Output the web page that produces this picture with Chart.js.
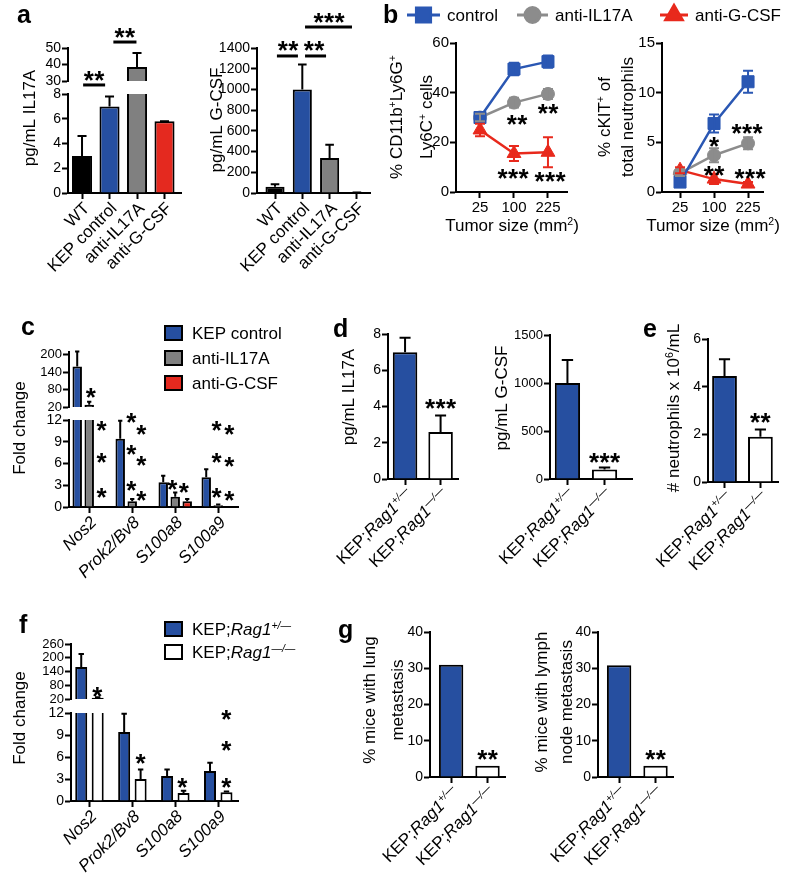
<!DOCTYPE html>
<html><head><meta charset="utf-8">
<script src="https://cdn.jsdelivr.net/npm/chart.js@4.4.0/dist/chart.umd.min.js"></script>
<style>
html,body{margin:0;padding:0;background:#fff;}
#wrap{position:relative;width:800px;height:887px;overflow:hidden;background:#fff;}
canvas{position:absolute;left:0;top:0;}
</style></head><body><div id="wrap"></div>
<script>
// ---------------- data ----------------
const aCats = ['WT','KEP control','anti-IL17A','anti-G-CSF'];
const aIL17A = [3.0, 7.0, 38.5, 5.8];
const aIL17AErr = [4.6, 7.8, 47, 5.8];
const aGCSF = [60, 1000, 338, 5];
const aGCSFErr = [85, 1240, 465, 5];

const bSizes = ['25','100','225'];
const bSeries = ['control','anti-IL17A','anti-G-CSF'];
const bCtrlLy6 = [30, 49.5, 52.5];   const bCtrlLy6Err = [2, 2.5, 2.5];
const bIL17Ly6 = [30, 36, 39.5];     const bIL17Ly6Err = [1.5, 2, 2];
const bGCSFLy6 = [25, 15.5, 16];     const bGCSFLy6Err = [2.5, 3, 6];
const bCtrlKit = [1.0, 6.9, 11.1];   const bCtrlKitErr = [0.3, 0.9, 1.1];
const bIL17Kit = [1.9, 3.7, 4.9];    const bIL17KitErr = [0.3, 0.7, 0.6];
const bGCSFKit = [2.2, 1.3, 0.8];    const bGCSFKitErr = [0.3, 0.5, 0.2];

const genes = ['Nos2','Prok2/Bv8','S100a8','S100a9'];
const cSeries = ['KEP control','anti-IL17A','anti-G-CSF'];
const cCtrl = [160, 9.4, 3.4, 4.1];  const cCtrlErr = [212, 11.9, 4.3, 5.2];
const cIL17 = [28, 0.8, 1.4, 0.25];  const cIL17Err = [38, 1.1, 2.0, 0.35];
const cGCSF = [0, 0, 0.8, 0.1];      const cGCSFErr = [null, null, 1.1, null];

const ragGeno = ['+/\u2014','\u2014/\u2014'];
const dIL17A = [7.0, 2.6];   const dIL17AErr = [7.8, 3.5];
const dGCSF = [1000, 100];   const dGCSFErr = [1240, 120];
const eNeut = [4.45, 1.9];   const eNeutErr = [5.15, 2.2];

const fHet = [160, 9.4, 3.4, 4.1];   const fHetErr = [216, 11.9, 4.3, 5.2];
const fKO  = [25, 3.0, 1.1, 1.2];    const fKOErr  = [28, 4.3, 1.4, 1.3];

const gLung = [31, 3.1];
const gLymph = [30.8, 3.1];

// ---------------- styles ----------------
const FONT = '"Liberation Sans", Arial, Helvetica, sans-serif';
const BLUE='#264fa0', GREY='#808080', RED='#e4291f', WHITE='#ffffff', BLACK='#000000';
const LBLUE='#2a57b3', LGREY='#8c8c8c', LRED='#e8291c';
Chart.defaults.font.family = FONT;
Chart.defaults.color = '#000';
Chart.defaults.plugins.legend.display = false;
Chart.defaults.plugins.tooltip.enabled = false;
const W=800, H=887;

function xy(arr){ return arr.map((v,i)=>({x:i,y:v})); }
function ragLabel(g){ return [{t:'KEP;'},{t:'Rag1',i:1},{t:g,i:1,s:1}]; }

function setFont(ctx,size,it,b){ ctx.font=(it?'italic ':'')+(b?'bold ':'')+size+'px '+FONT; }
function richW(ctx,segs,size){ let w=0; for(const s of segs){ setFont(ctx,s.s?size*0.62:size,s.i,s.b); w+=ctx.measureText(s.t).width; } return w; }
function richDraw(ctx,segs,x,y,size,align){
  const w=richW(ctx,segs,size);
  let cx = align==='right'? x-w : align==='center'? x-w/2 : x;
  ctx.textAlign='left'; ctx.textBaseline='alphabetic';
  for(const s of segs){ const sz=s.s?size*0.62:size; setFont(ctx,sz,s.i,s.b);
    ctx.fillText(s.t,cx,s.s? y-size*0.36 : y); cx+=ctx.measureText(s.t).width; }
}

const decoPlugin = { id:'deco', afterDraw(chart){
  const ops = chart.data.deco; if(!ops) return;
  const ctx=chart.ctx, xs=chart.scales.x, ys=chart.scales.y, A=chart.chartArea;
  ctx.save(); ctx.fillStyle='#000'; ctx.strokeStyle='#000';
  for(const o of ops){
    if(o.k==='t'){
      ctx.save(); ctx.translate(o.x,o.y); if(o.rot) ctx.rotate(o.rot*Math.PI/180);
      richDraw(ctx,o.segs,0,o.base?0:o.size*0.35,o.size,o.align||'left'); ctx.restore();
    } else if(o.k==='xl'){
      o.labels.forEach((segs,i)=>{
        const px=xs.getPixelForValue(i)+o.dx, py=A.bottom+o.dy;
        ctx.save(); ctx.translate(px,py); ctx.rotate(-Math.PI/4);
        richDraw(ctx,segs,0,o.size*0.35,o.size,'right'); ctx.restore();
      });
    } else if(o.k==='st'){
      const size=o.size||26, sp=o.sp||10.5;
      const px=xs.getPixelForValue(o.x), py=ys.getPixelForValue(o.y);
      setFont(ctx,size,false,true); ctx.textAlign='center'; ctx.textBaseline='alphabetic';
      for(let j=0;j<o.n;j++) ctx.fillText('*',px+(j-(o.n-1)/2)*sp,py+size*0.55);
    } else if(o.k==='ln'){
      const y=ys.getPixelForValue(o.y);
      ctx.lineWidth=o.w||3; ctx.beginPath();
      ctx.moveTo(xs.getPixelForValue(o.x1),y); ctx.lineTo(xs.getPixelForValue(o.x2),y); ctx.stroke();
    } else if(o.k==='sq'){
      ctx.fillStyle=o.fill; ctx.fillRect(o.x-o.w/2,o.y-o.h/2,o.w,o.h);
      ctx.lineWidth=2; ctx.strokeStyle='#000'; ctx.strokeRect(o.x-o.w/2,o.y-o.h/2,o.w,o.h);
      ctx.fillStyle='#000';
    } else if(o.k==='mk'){
      ctx.strokeStyle=o.color; ctx.fillStyle=o.color; ctx.lineWidth=3;
      ctx.beginPath(); ctx.moveTo(o.x1,o.y); ctx.lineTo(o.x2,o.y); ctx.stroke();
      Chart.helpers.drawPoint(ctx,{pointStyle:o.style,radius:o.r,rotation:0,borderWidth:1},(o.x1+o.x2)/2,o.y);
      ctx.strokeStyle='#000'; ctx.fillStyle='#000';
    }
  }
  ctx.restore();
}};

const errPlugin = { id:'errs', afterDatasetsDraw(chart){
  const ctx=chart.ctx, A=chart.chartArea, ys=chart.scales.y;
  const bottomPad = chart.data.errBottomPad || 0;
  ctx.save(); ctx.beginPath(); ctx.rect(A.left-30,A.top-3,A.right-A.left+60,A.bottom-A.top+3+bottomPad); ctx.clip();
  chart.data.datasets.forEach((ds,di)=>{
    const meta=chart.getDatasetMeta(di);
    if(ds.errTop){
      ctx.strokeStyle='#000'; ctx.lineWidth=2;
      meta.data.forEach((el,i)=>{
        const hi=ds.errTop[i]; if(hi==null) return;
        const y0=ys.getPixelForValue(ds.data[i].y), y1=ys.getPixelForValue(hi);
        const cw=el.width*0.45;
        ctx.beginPath(); ctx.moveTo(el.x,y0); ctx.lineTo(el.x,y1);
        ctx.moveTo(el.x-cw/2,y1); ctx.lineTo(el.x+cw/2,y1); ctx.stroke();
      });
    }
    if(ds.errPM){
      ctx.strokeStyle=ds.borderColor; ctx.lineWidth=2;
      meta.data.forEach((el,i)=>{
        const v=ds.data[i].y, e=ds.errPM[i];
        const y0=ys.getPixelForValue(v-e), y1=ys.getPixelForValue(v+e), cw=10;
        ctx.beginPath(); ctx.moveTo(el.x,y0); ctx.lineTo(el.x,y1);
        ctx.moveTo(el.x-cw/2,y0); ctx.lineTo(el.x+cw/2,y0);
        ctx.moveTo(el.x-cw/2,y1); ctx.lineTo(el.x+cw/2,y1); ctx.stroke();
      });
    }
  });
  ctx.restore();
}};
Chart.register(decoPlugin, errPlugin);

function mk(area,cfg){
  const c=document.createElement('canvas'); c.width=W; c.height=H;
  c.style.width=W+'px'; c.style.height=H+'px';
  document.getElementById('wrap').appendChild(c);
  const o=cfg.options; const xs=o.scales.x, ys=o.scales.y;
  const xShown = xs.display!==false;
  o.layout={padding:{left:0,top:area.t,right:W-area.r,bottom:xShown?0:H-area.b}};
  ys.afterFit=s=>{s.width=area.l;};
  if(xShown) xs.afterFit=s=>{s.height=H-area.b;};
  o.responsive=false; o.maintainAspectRatio=false; o.animation=false; o.events=[]; o.devicePixelRatio=1;
  return new Chart(c.getContext('2d'),cfg);
}
const GRID={display:true,drawOnChartArea:false,drawTicks:true,tickLength:6,tickWidth:2,tickColor:'#000',offset:false};
const BORDER={display:true,color:'#000',width:2};
function yLin(min,max,step,size,ticksArr){
  const o={type:'linear',min,max,ticks:{stepSize:step,font:{size},padding:1,autoSkip:false,color:'#000',callback:v=>String(v)},
    grid:Object.assign({},GRID),border:Object.assign({},BORDER)};
  if(ticksArr) o.afterBuildTicks=s=>{s.ticks=ticksArr.map(v=>({value:v}));};
  return o;
}
function xLin(min,max,n,labels,size){
  return {type:'linear',min,max,offset:false,
    afterBuildTicks:s=>{s.ticks=Array.from({length:n},(_,i)=>({value:i}));},
    ticks:{display:!!labels,callback:v=>labels?labels[v]:'',font:{size:size||15},padding:1,maxRotation:0,autoSkip:false,color:'#000'},
    grid:Object.assign({},GRID),border:Object.assign({},BORDER)};
}
function xHid(min,max){ return {type:'linear',min,max,display:false,offset:false}; }
const BAR={borderColor:'#000',borderWidth:2,borderSkipped:'start',clip:0};
function LINE(color,style,r){ return {borderColor:color,backgroundColor:color,pointBackgroundColor:color,pointBorderColor:color,
  pointStyle:style,pointRadius:r,pointBorderWidth:1,borderWidth:2.5,tension:0,clip:false,fill:false}; }

const aColors=[BLACK,BLUE,GREY,RED];

// ---------- panel a, IL17A (broken axis) ----------
const aLds = ()=>[{data:xy(aIL17A),errTop:aIL17AErr,backgroundColor:aColors,...BAR,categoryPercentage:1,barPercentage:0.73}];
mk({l:68,t:48,r:181,b:81},{type:'bar',data:{datasets:aLds()},
  options:{scales:{x:xHid(-0.51,3.6),y:yLin(30,50,10,14)}}});
mk({l:68,t:94,r:181,b:193},{type:'bar',data:{datasets:aLds(),errBottomPad:3,deco:[
  {k:'t',x:17,y:23,segs:[{t:'a',b:1}],size:25,base:1},
  {k:'t',x:29,y:118,segs:[{t:'pg/mL IL17A'}],size:17,rot:-90,align:'center'},
  {k:'xl',labels:aCats.map(s=>[{t:s}]),size:17,dx:4,dy:12},
  {k:'ln',x1:0.04,x2:0.84,y:8.73},{k:'ln',x1:1.14,x2:1.98,y:12.2},
  {k:'st',x:0.44,y:9.54,n:2},{k:'st',x:1.56,y:13.0,n:2}]},
  options:{scales:{x:xLin(-0.51,3.6,4),y:yLin(0,8,2,14)}}});

// ---------- panel a, G-CSF ----------
mk({l:257,t:48,r:370,b:193},{type:'bar',data:{datasets:[
  {data:xy(aGCSF),errTop:aGCSFErr,backgroundColor:aColors,...BAR,categoryPercentage:1,barPercentage:0.7}],errBottomPad:3,deco:[
  {k:'t',x:216,y:120,segs:[{t:'pg/mL G-CSF'}],size:17,rot:-90,align:'center'},
  {k:'xl',labels:aCats.map(s=>[{t:s}]),size:17,dx:4,dy:12},
  {k:'ln',x1:0.07,x2:0.84,y:1323},{k:'ln',x1:1.1,x2:1.87,y:1323},{k:'ln',x1:1.1,x2:2.82,y:1603},
  {k:'st',x:0.48,y:1429,n:2},{k:'st',x:1.43,y:1429,n:2},{k:'st',x:1.98,y:1699,n:3}]},
  options:{scales:{x:xLin(-0.66,3.48,4),y:yLin(0,1400,200,14)}}});

// ---------- panel b ----------
const bColors=[LBLUE,LGREY,LRED], bStyles=['rect','circle','triangle'];
mk({l:456,t:43,r:567,b:192},{type:'line',data:{datasets:[
  {data:xy(bCtrlLy6),errPM:bCtrlLy6Err,...LINE(LBLUE,'rect',8.5)},
  {data:xy(bIL17Ly6),errPM:bIL17Ly6Err,...LINE(LGREY,'circle',6.5)},
  {data:xy(bGCSFLy6),errPM:bGCSFLy6Err,...LINE(LRED,'triangle',8)}],errBottomPad:3,deco:[
  {k:'t',x:383,y:23,segs:[{t:'b',b:1}],size:25,base:1},
  {k:'mk',x1:407,x2:440,y:15,color:bColors[0],style:bStyles[0],r:10},
  {k:'t',x:447,y:15,segs:[{t:bSeries[0]}],size:17},
  {k:'mk',x1:517,x2:548,y:15,color:bColors[1],style:bStyles[1],r:7.5},
  {k:'t',x:555,y:15,segs:[{t:bSeries[1]}],size:17},
  {k:'mk',x1:660,x2:688,y:15,color:bColors[2],style:bStyles[2],r:9.5},
  {k:'t',x:695,y:15,segs:[{t:bSeries[2]}],size:17},
  {k:'t',x:396,y:117,segs:[{t:'% CD11b'},{t:'+',s:1},{t:'Ly6G'},{t:'+',s:1}],size:17,rot:-90,align:'center'},
  {k:'t',x:426,y:117,segs:[{t:'Ly6C'},{t:'+',s:1},{t:' cells'}],size:17,rot:-90,align:'center'},
  {k:'t',x:512,y:225,segs:[{t:'Tumor size (mm'},{t:'2',s:1},{t:')'}],size:17,align:'center'},
  {k:'st',x:1.09,y:29.4,n:2},{k:'st',x:2.0,y:33.8,n:2},{k:'st',x:0.97,y:7.7,n:3},{k:'st',x:2.06,y:6.5,n:3}]},
  options:{scales:{x:xLin(-0.706,2.56,3,bSizes,15),y:yLin(0,60,20,15)}}});

mk({l:662,t:43,r:763,b:192},{type:'line',data:{datasets:[
  {data:xy(bCtrlKit),errPM:bCtrlKitErr,...LINE(LBLUE,'rect',8.5)},
  {data:xy(bIL17Kit),errPM:bIL17KitErr,...LINE(LGREY,'circle',6.5)},
  {data:xy(bGCSFKit),errPM:bGCSFKitErr,...LINE(LRED,'triangle',8)}],errBottomPad:3,deco:[
  {k:'t',x:604,y:117,segs:[{t:'% cKIT'},{t:'+',s:1},{t:' of'}],size:17,rot:-90,align:'center'},
  {k:'t',x:627,y:117,segs:[{t:'total neutrophils'}],size:17,rot:-90,align:'center'},
  {k:'t',x:713,y:225,segs:[{t:'Tumor size (mm'},{t:'2',s:1},{t:')'}],size:17,align:'center'},
  {k:'st',x:1.0,y:5.2,n:1},{k:'st',x:1.97,y:6.5,n:3},{k:'st',x:1.0,y:2.2,n:2},{k:'st',x:2.06,y:1.9,n:3}]},
  options:{scales:{x:xLin(-0.53,2.44,3,bSizes,15),y:yLin(0,15,5,15)}}});

// ---------- panel c (broken axis) ----------
const cColors=[BLUE,GREY,RED];
const cDs=()=>[
  {data:xy(cCtrl),errTop:cCtrlErr,backgroundColor:cColors[0],...BAR,categoryPercentage:0.837,barPercentage:0.79},
  {data:xy(cIL17),errTop:cIL17Err,backgroundColor:cColors[1],...BAR,categoryPercentage:0.837,barPercentage:0.79},
  {data:xy(cGCSF),errTop:cGCSFErr,backgroundColor:cColors[2],...BAR,categoryPercentage:0.837,barPercentage:0.79}];
mk({l:69,t:352,r:238,b:407},{type:'bar',data:{datasets:cDs()},
  options:{scales:{x:xHid(-0.47,3.46),y:yLin(20,210,60,13,[20,80,140,200])}}});
mk({l:69,t:420,r:238,b:507},{type:'bar',data:{datasets:cDs(),errBottomPad:3,deco:[
  {k:'t',x:21,y:335,segs:[{t:'c',b:1}],size:25,base:1},
  {k:'t',x:19,y:428,segs:[{t:'Fold change'}],size:17,rot:-90,align:'center'},
  {k:'xl',labels:genes.map(s=>[{t:s,i:1}]),size:17,dx:4,dy:12},
  {k:'sq',x:173.5,y:333,w:17,h:14,fill:cColors[0]},{k:'t',x:192,y:333,segs:[{t:cSeries[0]}],size:17},
  {k:'sq',x:173.5,y:358,w:17,h:14,fill:cColors[1]},{k:'t',x:192,y:358,segs:[{t:cSeries[1]}],size:17},
  {k:'sq',x:173.5,y:383,w:17,h:14,fill:cColors[2]},{k:'t',x:192,y:383,segs:[{t:cSeries[2]}],size:17},
  {k:'st',x:0.04,y:15.9,n:1},
  {k:'st',x:0.29,y:11.3,n:1},{k:'st',x:0.29,y:6.94,n:1},{k:'st',x:0.29,y:2.1,n:1},
  {k:'st',x:0.98,y:12.45,n:1},{k:'st',x:1.21,y:10.86,n:1},{k:'st',x:0.98,y:8.1,n:1},{k:'st',x:1.21,y:6.5,n:1},
  {k:'st',x:0.98,y:3.03,n:1},{k:'st',x:1.21,y:1.66,n:1},
  {k:'st',x:1.93,y:3.27,n:1},{k:'st',x:2.2,y:2.8,n:1},
  {k:'st',x:2.96,y:11.3,n:1},{k:'st',x:3.26,y:10.86,n:1},{k:'st',x:2.96,y:6.9,n:1},{k:'st',x:3.26,y:6.4,n:1},
  {k:'st',x:2.96,y:2.1,n:1},{k:'st',x:3.26,y:1.66,n:1}]},
  options:{scales:{x:xLin(-0.47,3.46,4),y:yLin(0,12,3,14)}}});

// ---------- panel d ----------
const ragLabels = ragGeno.map(ragLabel);
mk({l:388,t:334,r:458,b:479},{type:'bar',data:{datasets:[
  {data:xy(dIL17A),errTop:dIL17AErr,backgroundColor:[BLUE,WHITE],...BAR,categoryPercentage:1,barPercentage:0.69}],errBottomPad:3,deco:[
  {k:'t',x:333,y:337,segs:[{t:'d',b:1}],size:25,base:1},
  {k:'t',x:348,y:397,segs:[{t:'pg/mL IL17A'}],size:17,rot:-90,align:'center'},
  {k:'xl',labels:ragLabels,size:17,dx:4,dy:12},
  {k:'st',x:1.0,y:4.19,n:3}]},
  options:{scales:{x:xLin(-0.48,1.49,2),y:yLin(0,8,2,14)}}});
mk({l:550,t:335,r:632,b:479},{type:'bar',data:{datasets:[
  {data:xy(dGCSF),errTop:dGCSFErr,backgroundColor:[BLUE,WHITE],...BAR,categoryPercentage:1,barPercentage:0.68}],errBottomPad:3,deco:[
  {k:'t',x:501,y:398,segs:[{t:'pg/mL G-CSF'}],size:17,rot:-90,align:'center'},
  {k:'xl',labels:ragLabels,size:17,dx:4,dy:12},
  {k:'st',x:1.0,y:235,n:3}]},
  options:{scales:{x:xLin(-0.47,1.74,2),y:yLin(0,1500,500,13)}}});

// ---------- panel e ----------
mk({l:708,t:339,r:778,b:482},{type:'bar',data:{datasets:[
  {data:xy(eNeut),errTop:eNeutErr,backgroundColor:[BLUE,WHITE],...BAR,categoryPercentage:1,barPercentage:0.69}],errBottomPad:3,deco:[
  {k:'t',x:643,y:337,segs:[{t:'e',b:1}],size:25,base:1},
  {k:'t',x:673,y:408,segs:[{t:'# neutrophils x 10'},{t:'6',s:1},{t:'/mL'}],size:17,rot:-90,align:'center'},
  {k:'xl',labels:ragLabels,size:17,dx:4,dy:12},
  {k:'st',x:1.0,y:2.73,n:2}]},
  options:{scales:{x:xLin(-0.46,1.49,2),y:yLin(0,6,2,14)}}});

// ---------- panel f (broken axis) ----------
const fDs=()=>[
  {data:xy(fHet),errTop:fHetErr,backgroundColor:BLUE,...BAR,categoryPercentage:0.767,barPercentage:0.73},
  {data:xy(fKO),errTop:fKOErr,backgroundColor:WHITE,...BAR,categoryPercentage:0.767,barPercentage:0.73}];
mk({l:71,t:644,r:238,b:699},{type:'bar',data:{datasets:fDs()},
  options:{scales:{x:xHid(-0.43,3.46),y:yLin(20,260,60,13,[20,80,140,200,260])}}});
mk({l:71,t:713,r:238,b:801},{type:'bar',data:{datasets:fDs(),errBottomPad:3,deco:[
  {k:'t',x:19,y:633,segs:[{t:'f',b:1}],size:25,base:1},
  {k:'t',x:19,y:718,segs:[{t:'Fold change'}],size:17,rot:-90,align:'center'},
  {k:'xl',labels:genes.map(s=>[{t:s,i:1}]),size:17,dx:4,dy:12},
  {k:'sq',x:173.5,y:629,w:17,h:14,fill:BLUE},{k:'t',x:192,y:629,segs:ragLabels[0],size:17},
  {k:'sq',x:173.5,y:652,w:17,h:14,fill:WHITE},{k:'t',x:192,y:652,segs:ragLabels[1],size:17},
  {k:'st',x:0.18,y:15.0,n:1},{k:'st',x:1.19,y:5.87,n:1},{k:'st',x:2.16,y:2.6,n:1},
  {k:'st',x:3.19,y:11.96,n:1},{k:'st',x:3.19,y:7.64,n:1},{k:'st',x:3.19,y:2.63,n:1}]},
  options:{scales:{x:xLin(-0.43,3.46,4),y:yLin(0,12,3,14)}}});

// ---------- panel g ----------
mk({l:430,t:632,r:505,b:777},{type:'bar',data:{datasets:[
  {data:xy(gLung),backgroundColor:[BLUE,WHITE],...BAR,categoryPercentage:1,barPercentage:0.67}],deco:[
  {k:'t',x:338,y:638,segs:[{t:'g',b:1}],size:25,base:1},
  {k:'t',x:369,y:700,segs:[{t:'% mice with lung'}],size:17,rot:-90,align:'center'},
  {k:'t',x:397,y:700,segs:[{t:'metastasis'}],size:17,rot:-90,align:'center'},
  {k:'xl',labels:ragLabels,size:17,dx:4,dy:12},
  {k:'st',x:1.0,y:6.3,n:2}]},
  options:{scales:{x:xLin(-0.58,1.48,2),y:yLin(0,40,10,14)}}});
mk({l:598,t:632,r:673,b:777},{type:'bar',data:{datasets:[
  {data:xy(gLymph),backgroundColor:[BLUE,WHITE],...BAR,categoryPercentage:1,barPercentage:0.67}],deco:[
  {k:'t',x:541,y:702,segs:[{t:'% mice with lymph'}],size:17,rot:-90,align:'center'},
  {k:'t',x:566,y:702,segs:[{t:'node metastasis'}],size:17,rot:-90,align:'center'},
  {k:'xl',labels:ragLabels,size:17,dx:4,dy:12},
  {k:'st',x:1.0,y:6.3,n:2}]},
  options:{scales:{x:xLin(-0.58,1.48,2),y:yLin(0,40,10,14)}}});
</script></body></html>
